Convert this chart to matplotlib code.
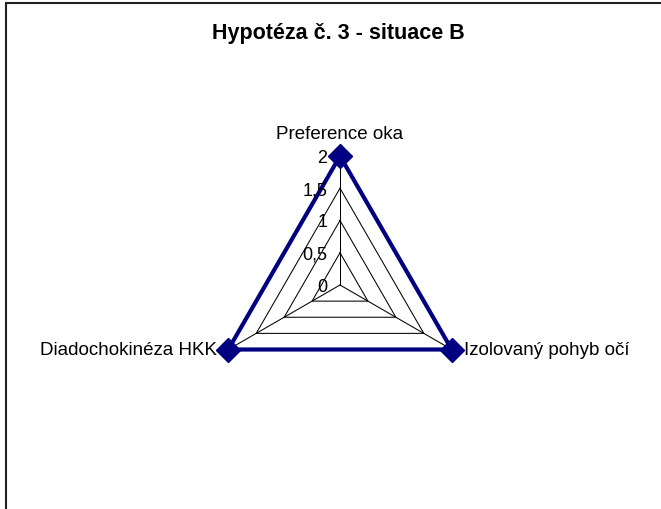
import numpy as np
import matplotlib.pyplot as plt
from matplotlib.patches import Rectangle

plt.rcParams['font.family'] = ['Liberation Sans', 'DejaVu Sans']

title = "Hypotéza č. 3 - situace B"
categories = ["Preference oka", "Izolovaný pohyb očí", "Diadochokinéza HKK"]
values = [2, 2, 2]
r_ticks = [0, 0.5, 1, 1.5, 2]
r_tick_labels = ["0", "0,5", "1", "1,5", "2"]
r_max = 2

W, H = 661, 510
fig = plt.figure(figsize=(W / 100, H / 100), dpi=100)

# chart frame (only top and left edges fall inside the image)
fig.patches.append(Rectangle((5.5 / W, -0.1), 1.2, 1 - 3.5 / H + 0.1,
                             transform=fig.transFigure, fill=False,
                             edgecolor='#202020', linewidth=1.5))

fig.text(338 / W, 1 - 34 / H, title, ha='center', va='center',
         fontsize=15.5, fontweight='bold')

# radar area: centre at (340, 286) px, radius ~129 px
cx, cy, rad = 340, 286, 129
ax = fig.add_axes([(cx - rad) / W, (H - cy - rad) / H, 2 * rad / W, 2 * rad / H],
                  projection='polar')
ax.set_theta_zero_location('N')
ax.set_theta_direction(-1)
ax.set_ylim(0, r_max)
ax.axis('off')

angles = np.linspace(0, 2 * np.pi, len(categories), endpoint=False)
closed = np.append(angles, angles[0])

# triangular grid and spokes
for t in r_ticks[1:-1]:
    ax.plot(closed, [t] * len(closed), color='black', lw=0.75, zorder=1)
for a in angles:
    ax.plot([a, a], [0, r_max], color='black', lw=0.75, zorder=1)

vals = np.append(values, values[0])
ax.plot(closed, vals, color='#000080', lw=3, zorder=3, clip_on=False)
ax.plot(angles, values, 'D', color='#000080', ms=12, zorder=4, clip_on=False)

# radial tick labels left of the top spoke
for t, lab in zip(r_ticks, r_tick_labels):
    ax.annotate(lab, xy=(0, t), xytext=(-9, -1), textcoords='offset points',
                ha='right', va='center', fontsize=13, annotation_clip=False)

# category labels
lab_size = 13.5
ax.annotate(categories[0], xy=(angles[0], r_max), xytext=(0, 10),
            textcoords='offset points', ha='center', va='bottom', fontsize=lab_size,
            annotation_clip=False)
ax.annotate(categories[1], xy=(angles[1], r_max), xytext=(9, 0),
            textcoords='offset points', ha='left', va='center', fontsize=lab_size,
            annotation_clip=False)
ax.annotate(categories[2], xy=(angles[2], r_max), xytext=(-8, 0),
            textcoords='offset points', ha='right', va='center', fontsize=lab_size,
            annotation_clip=False)

fig.savefig('out.png', dpi=100)
